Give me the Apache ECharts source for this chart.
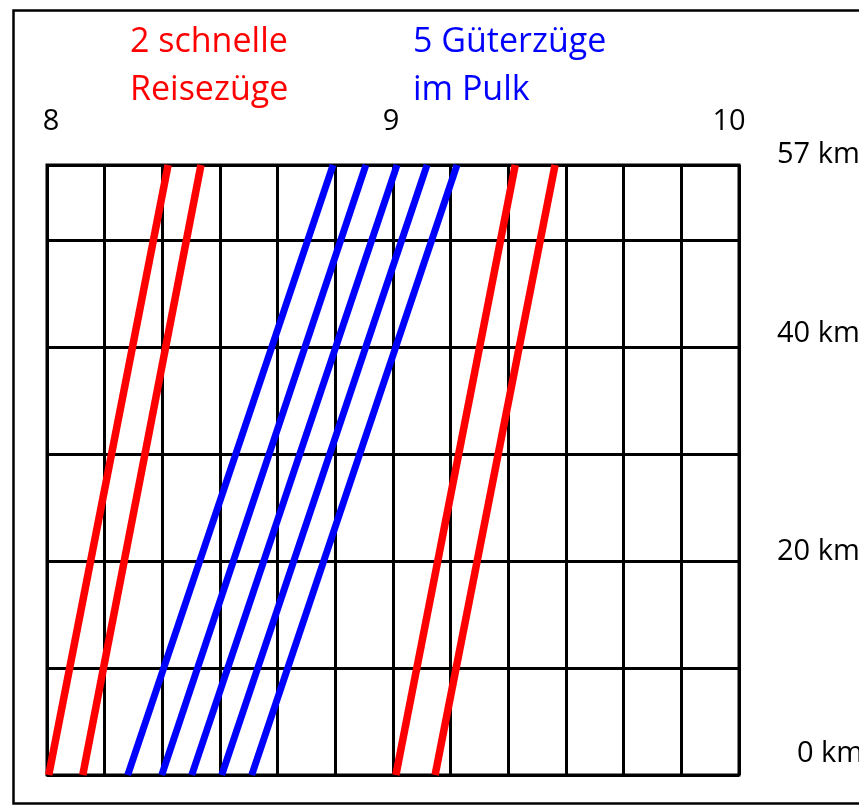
<!DOCTYPE html>
<html><head><meta charset="utf-8">
<script src="https://cdn.jsdelivr.net/npm/echarts@6/dist/echarts.min.js"></script>
<style>html,body{margin:0;padding:0;background:#fff}#c{width:859px;height:807px}</style>
</head><body><div id="c"></div>
<script>
// minutes after 8:00 at km 0 (departure) and km 57 (arrival)
const redDepart = [0.3, 6.2, 60.5, 67.3];
const redArrive = [21.0, 26.7, 81.2, 88.1];
const blueDepart = [14.0, 19.9, 25.1, 30.3, 35.5];
const blueArrive = [49.6, 55.3, 60.7, 65.9, 71.1];
const lineKm = [0, 57];
const timeTickMinutes = [0, 60, 120];
const timeTickLabels = ['8', '9', '10'];
const kmTicks = [0, 20, 40, 57];
const redTitle = '2 schnelle\nReisezüge';
const blueTitle = '5 Güterzüge\nim Pulk';

const FONT = 'Open Sans';
const chart = echarts.init(document.getElementById('c'), null, {renderer: 'canvas'});

const series = [];
redDepart.forEach((d, i) => series.push({
  type: 'line', symbol: 'none', clip: false, silent: true,
  data: [[d, lineKm[0]], [redArrive[i], lineKm[1]]],
  lineStyle: {color: '#ff0000', width: 7.5, cap: 'butt'}
}));
blueDepart.forEach((d, i) => series.push({
  type: 'line', symbol: 'none', clip: false, silent: true,
  data: [[d, lineKm[0]], [blueArrive[i], lineKm[1]]],
  lineStyle: {color: '#0000ff', width: 7, cap: 'butt'}
}));

const base = {fontFamily: FONT, fontSize: 29, color: '#000'};
const xRich = {
  t0: Object.assign({padding: [0, 0, 0, 8]}, base),
  t1: Object.assign({padding: [0, 4, 0, 0]}, base),
  t2: Object.assign({padding: [0, 20, 0, 0]}, base)
};
const yRich = {
  k0: Object.assign({padding: [0, 0, 42, 20]}, base),
  k1: Object.assign({padding: [0, 0, 18, 0]}, base),
  k2: Object.assign({padding: [0, 0, 26, 0]}, base),
  k3: Object.assign({padding: [0, 0, 20, 0]}, base)
};

chart.setOption({
  animation: false,
  backgroundColor: '#fff',
  title: [
    {text: redTitle, left: 130, top: 18, padding: 0,
     textStyle: {color: '#ff0000', fontFamily: FONT, fontSize: 34, fontWeight: 'normal', lineHeight: 48}},
    {text: blueTitle, left: 413, top: 18, padding: 0,
     textStyle: {color: '#0000ff', fontFamily: FONT, fontSize: 34, fontWeight: 'normal', lineHeight: 48}}
  ],
  graphic: [{
    type: 'rect', left: 11, top: 8, silent: true,
    shape: {width: 900, height: 793},
    style: {fill: 'none', stroke: '#000', lineWidth: 2.5}
  }],
  grid: {left: 47, right: 120, top: 165, bottom: 32, show: true, outerBoundsMode: 'none',
         containLabel: false,
         borderColor: '#000', borderWidth: 3, backgroundColor: 'transparent'},
  xAxis: {
    type: 'value', position: 'top', min: 0, max: 120, interval: 10,
    axisLine: {show: false}, axisTick: {show: false},
    splitLine: {show: true, lineStyle: {color: '#000', width: 3}},
    axisLabel: {
      margin: 29, showMinLabel: true, showMaxLabel: true,
      fontFamily: FONT, fontSize: 29, color: '#000',
      formatter: v => { const i = timeTickMinutes.indexOf(v); return i < 0 ? '' : '{t' + i + '|' + timeTickLabels[i] + '}'; },
      rich: xRich
    }
  },
  yAxis: {
    type: 'value', position: 'right', min: 0, max: 57, interval: 10,
    axisLine: {show: false}, axisTick: {show: false},
    splitLine: {show: true, lineStyle: {color: '#000', width: 3}},
    axisLabel: {
      margin: 38, showMinLabel: true, showMaxLabel: true, align: 'left',
      fontFamily: FONT, fontSize: 29, color: '#000',
      formatter: v => { const i = kmTicks.indexOf(v); return i < 0 ? '' : '{k' + i + '|' + v + ' km}'; },
      rich: yRich
    }
  },
  series: series
});
</script></body></html>
